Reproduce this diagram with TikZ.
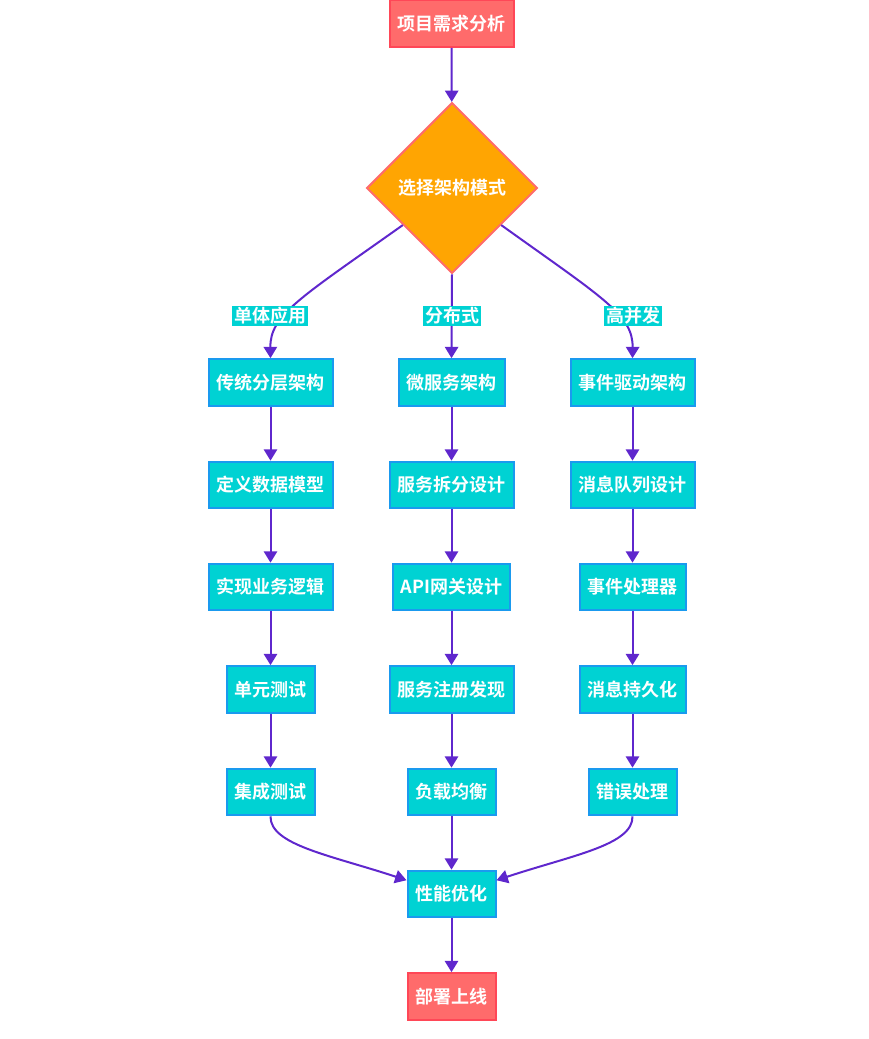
\documentclass[tikz,border=0pt]{standalone}
\usepackage{fontspec}
\setmainfont{Noto Sans CJK SC}[BoldFont={* Bold}]
\usetikzlibrary{shapes.geometric,arrows.meta}
\definecolor{boxfill}{HTML}{00D2D3}
\definecolor{boxline}{HTML}{1A9AEF}
\definecolor{endfill}{HTML}{FF6B6B}
\definecolor{endline}{HTML}{FF4757}
\definecolor{decfill}{HTML}{FFA502}
\definecolor{arrline}{HTML}{5F27CD}
\begin{document}
\begin{tikzpicture}[x=0.75pt,y=-0.75pt]
\tikzstyle{every node}=[text=white,font=\fontsize{13.5}{16}\selectfont\bfseries]
\tikzstyle{proc}=[rectangle,draw=boxline,fill=boxfill,line width=1.5pt,minimum height=35pt,inner xsep=6pt]
\tikzstyle{term}=[rectangle,draw=endline,fill=endfill,line width=1.5pt,minimum height=35pt,inner xsep=6pt]
\tikzstyle{dec}=[diamond,draw=endfill,fill=decfill,line width=1.5pt,minimum width=128pt,minimum height=128pt,inner sep=0pt]
\tikzstyle{lbl}=[fill=boxfill,inner sep=1.2pt]
\tikzstyle{arr}=[draw=arrline,line width=1.5pt,-{Triangle[length=8.5pt,width=10pt]}]
\useasboundingbox (0,0) rectangle (868,1039);
\node[term](n0) at (451.5,23.5) {项目需求分析};
\node[dec](d0) at (452,188) {选择架构模式};
\node[proc](a1) at (270.5,382.5) {传统分层架构};
\node[proc](a2) at (270.5,485) {定义数据模型};
\node[proc](a3) at (270.5,587) {实现业务逻辑};
\node[proc](a4) at (270.5,689.5) {单元测试};
\node[proc](a5) at (270.5,792) {集成测试};
\node[proc](b1) at (451.5,382.5) {微服务架构};
\node[proc](b2) at (451.5,485) {服务拆分设计};
\node[proc](b3) at (451.5,587) {API网关设计};
\node[proc](b4) at (451.5,689.5) {服务注册发现};
\node[proc](b5) at (451.5,792) {负载均衡};
\node[proc](c1) at (632.5,382.5) {事件驱动架构};
\node[proc](c2) at (632.5,485) {消息队列设计};
\node[proc](c3) at (632.5,587) {事件处理器};
\node[proc](c4) at (632.5,689.5) {消息持久化};
\node[proc](c5) at (632.5,792) {错误处理};
\node[proc](p0) at (451.5,894) {性能优化};
\node[term](e0) at (451.5,996.5) {部署上线};
\draw[arr] (n0) -- (d0);
\draw[arr] (d0.-143) .. controls (300,298) and (270,315) .. (a1.north);
\draw[arr] (d0.south) -- (b1.north);
\draw[arr] (d0.-37) .. controls (603,298) and (633,315) .. (c1.north);
\node[lbl](la) at (270,316) {单体应用};
\node[lbl](lb) at (452,316) {分布式};
\node[lbl](lc) at (633,316) {高并发};
\draw[arr] (a1) -- (a2);
\draw[arr] (a2) -- (a3);
\draw[arr] (a3) -- (a4);
\draw[arr] (a4) -- (a5);
\draw[arr] (b1) -- (b2);
\draw[arr] (b2) -- (b3);
\draw[arr] (b3) -- (b4);
\draw[arr] (b4) -- (b5);
\draw[arr] (c1) -- (c2);
\draw[arr] (c2) -- (c3);
\draw[arr] (c3) -- (c4);
\draw[arr] (c4) -- (c5);
\draw[arr] (a5.south) .. controls (270,845) and (330,855) .. (p0.163);
\draw[arr] (b5) -- (p0);
\draw[arr] (c5.south) .. controls (633,845) and (573,855) .. (p0.17);
\draw[arr] (p0) -- (e0);
\end{tikzpicture}
\end{document}
